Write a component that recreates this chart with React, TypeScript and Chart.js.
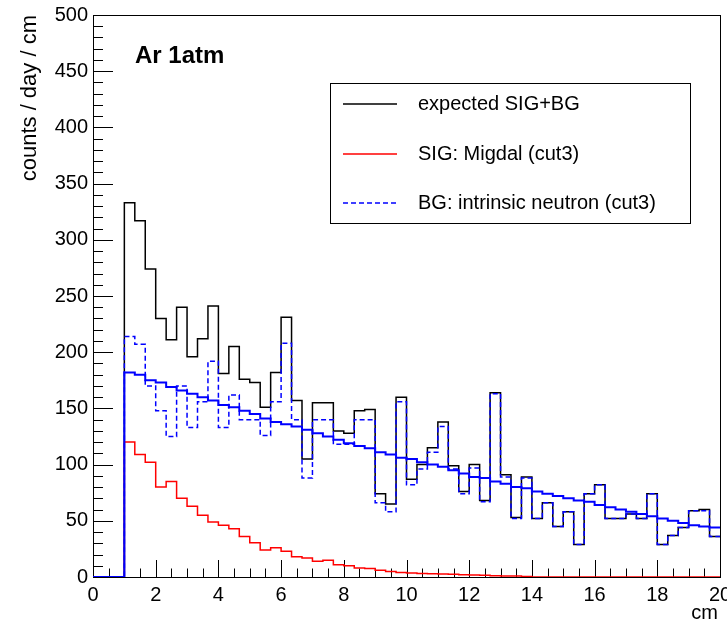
import React, { useEffect, useRef } from "react";
import { Chart, registerables } from "chart.js";

Chart.register(...registerables);

// Histogram binning: 60 bins of 1/3 cm from 0 to 20 cm
const X_MIN = 0;
const X_MAX = 20;
const N_BINS = 60;
const binEdges: number[] = Array.from({ length: N_BINS + 1 }, (_, i) => X_MIN + (i * (X_MAX - X_MIN)) / N_BINS);

const xTickLabels = ["0", "2", "4", "6", "8", "10", "12", "14", "16", "18", "20"];
const yTickLabels = ["0", "50", "100", "150", "200", "250", "300", "350", "400", "450", "500"];

// expected SIG+BG (black)
const expectedSigBg = [
  0, 0, 0, 333, 317, 274, 230, 211, 240, 196,
  212, 241, 181, 205, 176, 173, 151, 182, 231, 157,
  105, 155, 155, 130, 128, 148, 149, 74, 65, 160,
  87, 100, 115, 138, 99, 76, 100, 68, 164, 91,
  53, 89, 52, 66, 45, 58, 29, 74, 82, 52,
  52, 56, 52, 74, 29, 37, 44, 59, 60, 36,
];

// SIG: Migdal (cut3) (red)
const sigMigdal = [
  0, 0, 0, 120, 109, 102, 80, 85, 70, 63,
  55, 49, 46, 43, 36, 30.5, 24, 26, 23, 18,
  17, 14, 15, 11, 10, 8, 7.5, 6, 5, 4,
  3.5, 3.2, 3, 2.7, 2.4, 2, 1.8, 1.5, 1.2, 1,
  0.8, 0.5, 0, 0, 0, 0, 0, 0, 0, 0,
  0, 0, 0, 0, 0, 0, 0, 0, 0, 0,
];

// BG: intrinsic neutron (cut3) (blue dashed)
const bgNeutron = [
  0, 0, 0, 214, 207, 170, 148, 125, 170, 133,
  156, 192, 133, 162, 140, 140, 126, 156, 208, 140,
  88, 140, 140, 118, 118, 140, 140, 66, 58, 156,
  82, 96, 111, 134, 96, 74, 97, 67, 163, 89,
  52, 88, 52, 66, 45, 58, 29, 74, 82, 52,
  52, 56, 52, 74, 29, 37, 44, 59, 59, 36,
];

// BG smooth expectation (blue solid)
const bgSmooth = [
  0, 0, 0, 182, 180, 175, 173, 169, 166, 163,
  160, 157, 153, 151, 148, 145, 141, 138, 136, 134,
  131, 128, 125, 122, 119, 116.5, 114.5, 111, 109, 106,
  105, 102, 100, 98, 95, 92, 89, 88, 85, 83,
  80, 79, 76, 74, 72, 70, 68, 67, 64, 62,
  60, 58, 56, 54, 52, 50, 48, 46, 45, 44,
];

const FONT = "'Liberation Sans', Arial, Helvetica, sans-serif";

function toSteps(vals: number[]) {
  const pts = vals.map((v, i) => ({ x: binEdges[i], y: v }));
  pts.push({ x: binEdges[vals.length], y: vals[vals.length - 1] });
  return pts;
}

const rootStylePlugin = {
  id: "rootStyle",
  beforeDatasetsDraw(chart: any) {
    const { ctx, chartArea } = chart;
    const xs = chart.scales.x;
    const ys = chart.scales.y;
    ctx.save();
    ctx.strokeStyle = "#000";
    ctx.lineWidth = 1;
    // frame
    ctx.strokeRect(
      Math.round(chartArea.left) + 0.5,
      Math.round(chartArea.top) + 0.5,
      Math.round(chartArea.right - chartArea.left),
      Math.round(chartArea.bottom - chartArea.top)
    );
    ctx.beginPath();
    // x ticks (inside)
    for (let v = 0; v <= 20.0001; v += 0.5) {
      const px = Math.round(xs.getPixelForValue(v)) + 0.5;
      const major = Math.abs(v / 2 - Math.round(v / 2)) < 1e-6;
      const len = major ? 17 : 8.5;
      ctx.moveTo(px, chartArea.bottom);
      ctx.lineTo(px, chartArea.bottom - len);
    }
    // y ticks (inside)
    for (let v = 0; v <= 500.0001; v += 10) {
      const py = Math.round(ys.getPixelForValue(v)) + 0.5;
      const major = v % 50 === 0;
      const len = major ? 20 : 10;
      ctx.moveTo(chartArea.left, py);
      ctx.lineTo(chartArea.left + len, py);
    }
    ctx.stroke();
    ctx.restore();
  },
  afterDraw(chart: any) {
    const { ctx } = chart;
    ctx.save();
    ctx.fillStyle = "#000";
    // y axis title
    ctx.save();
    ctx.font = `22px ${FONT}`;
    ctx.translate(30, 15);
    ctx.rotate(-Math.PI / 2);
    ctx.textAlign = "right";
    ctx.textBaseline = "middle";
    ctx.fillText("counts / day / cm", 0, 0);
    ctx.restore();
    // x axis title
    ctx.font = `20px ${FONT}`;
    ctx.textAlign = "right";
    ctx.textBaseline = "alphabetic";
    ctx.fillText("cm", 718, 619);
    // title
    ctx.font = `bold 24px ${FONT}`;
    ctx.textAlign = "left";
    ctx.fillText("Ar 1atm", 135, 63);
    // legend
    ctx.fillStyle = "#fff";
    ctx.fillRect(330.5, 83.5, 360, 140);
    ctx.strokeStyle = "#000";
    ctx.lineWidth = 1;
    ctx.strokeRect(330.5, 83.5, 360, 140);
    const entries = [
      { label: "expected SIG+BG", color: "#000000", dash: [] as number[], y: 104 },
      { label: "SIG: Migdal (cut3)", color: "#ff0000", dash: [] as number[], y: 154 },
      { label: "BG: intrinsic neutron (cut3)", color: "#0000ff", dash: [5, 3], y: 203 },
    ];
    ctx.font = `20px ${FONT}`;
    ctx.textBaseline = "middle";
    for (const e of entries) {
      ctx.strokeStyle = e.color;
      ctx.lineWidth = 1.5;
      ctx.setLineDash(e.dash);
      ctx.beginPath();
      ctx.moveTo(343, e.y);
      ctx.lineTo(397, e.y);
      ctx.stroke();
      ctx.setLineDash([]);
      ctx.fillStyle = "#000";
      ctx.fillText(e.label, 418, e.y);
    }
    ctx.restore();
  },
};

export default function App() {
  const canvasRef = useRef<HTMLCanvasElement | null>(null);

  useEffect(() => {
    const canvas = canvasRef.current;
    if (!canvas) return;
    const common = { stepped: "before" as const, pointRadius: 0, fill: false, tension: 0 };
    const chart = new Chart(canvas, {
      type: "line",
      data: {
        datasets: [
          { label: "BG expectation", data: toSteps(bgSmooth), borderColor: "#0000ff", borderWidth: 2, ...common },
          { label: "BG: intrinsic neutron (cut3)", data: toSteps(bgNeutron), borderColor: "#0000ff", borderWidth: 1.5, borderDash: [5, 3], ...common },
          { label: "SIG: Migdal (cut3)", data: toSteps(sigMigdal), borderColor: "#ff0000", borderWidth: 1.5, ...common },
          { label: "expected SIG+BG", data: toSteps(expectedSigBg), borderColor: "#000000", borderWidth: 1.5, ...common },
        ],
      },
      options: {
        animation: false,
        responsive: false,
        devicePixelRatio: 1,
        layout: { padding: { top: 15, right: 7, left: 0, bottom: 0 } },
        plugins: { legend: { display: false }, tooltip: { enabled: false }, title: { display: false } },
        scales: {
          x: {
            type: "linear",
            min: X_MIN,
            max: X_MAX,
            grid: { display: false, drawTicks: false },
            border: { display: false },
            ticks: {
              stepSize: 2,
              autoSkip: false,
              maxRotation: 0,
              padding: 6,
              color: "#000",
              font: { family: FONT, size: 20 },
              callback: (_v: any, i: number) => xTickLabels[i],
            },
            afterFit: (s: any) => {
              s.height = 48;
              s.paddingLeft = 0;
              s.paddingRight = 0;
            },
          },
          y: {
            type: "linear",
            min: 0,
            max: 500,
            grid: { display: false, drawTicks: false },
            border: { display: false },
            ticks: {
              stepSize: 50,
              padding: 5,
              color: "#000",
              font: { family: FONT, size: 20 },
              callback: (_v: any, i: number) => yTickLabels[i],
            },
            afterFit: (s: any) => {
              s.width = 93;
              s.paddingTop = 0;
              s.paddingBottom = 0;
            },
          },
        },
      },
      plugins: [rootStylePlugin],
    });
    return () => chart.destroy();
  }, []);

  return (
    <div style={{ position: "absolute", left: 0, top: 0, width: 727, height: 625, background: "#fff" }}>
      <canvas ref={canvasRef} width={727} height={625} style={{ display: "block", width: 727, height: 625 }} />
    </div>
  );
}
